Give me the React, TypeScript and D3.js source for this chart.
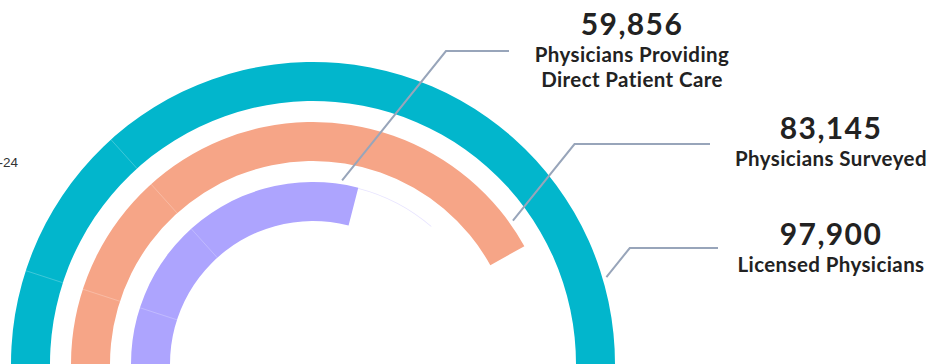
import React from "react";
import * as d3 from "d3";

// ---- data ----
const categories = [
  "Physicians Providing Direct Patient Care",
  "Physicians Surveyed",
  "Licensed Physicians",
];
const values = [59856, 83145, 97900];
const valueLabels = ["59,856", "83,145", "97,900"];
const subtitleLines = [
  ["Physicians Providing", "Direct Patient Care"],
  ["Physicians Surveyed"],
  ["Licensed Physicians"],
];
const periodLabel = "2023-24";

// ---- style / layout ----
const W = 941;
const H = 364;
const CX = 313;
const CY = 364;
const colors = ["#ADA4FE", "#F6A587", "#02B6CC"];
const deg = Math.PI / 180;

// label layout (per category, same order)
const labelLayout = [
  { cx: 632, numY: 35, lineY: 51, lineEnd: 509, anchorOffsetDeg: -5.4 },
  { cx: 831, numY: 139, lineY: 144, lineEnd: 710, anchorOffsetDeg: -6.5 },
  { cx: 831, numY: 245, lineY: 248, lineEnd: 718, anchorOffsetDeg: -16.8 },
];

export default function App() {
  const angle = d3
    .scaleLinear()
    .domain([0, d3.max(values) as number])
    .range([-105 * deg, 90.3 * deg]);

  const radius = d3
    .scaleBand<string>()
    .domain(categories)
    .range([143, 302])
    .paddingInner(0.35)
    .paddingOuter(0);

  const arc = d3.arc<any>();
  const polar = (a: number, r: number): [number, number] => [
    CX + r * Math.sin(a),
    CY - r * Math.cos(a),
  ];

  return (
    <svg
      width={W}
      height={H}
      style={{ position: "absolute", left: 0, top: 0, background: "#fff" }}
    >
      <text
        x={18}
        y={167}
        textAnchor="end"
        fontFamily="'Liberation Sans', Arial, sans-serif"
        fontSize={13.5}
        fill="#333"
      >
        {periodLabel}
      </text>

      <g transform={`translate(${CX},${CY})`}>
        {categories.map((c, i) => {
          const inner = radius(c) as number;
          const outer = inner + radius.bandwidth();
          const d = arc({
            innerRadius: inner,
            outerRadius: outer,
            startAngle: angle(0),
            endAngle: angle(values[i]),
          }) as string;
          return <path key={c} d={d} fill={colors[i]} />;
        })}
        {/* faint segment seams */}
        {categories.map((c, i) => {
          const inner = radius(c) as number;
          const outer = inner + radius.bandwidth();
          return [-72, -42].map((a) => (
            <line
              key={c + a}
              x1={inner * Math.sin(a * deg)}
              y1={-inner * Math.cos(a * deg)}
              x2={outer * Math.sin(a * deg)}
              y2={-outer * Math.cos(a * deg)}
              stroke="#fff"
              strokeOpacity={0.3}
              strokeWidth={0.8}
            />
          ));
        })}
        {/* faint trailing track after the innermost bar */}
        <path
          d={
            d3
              .arc<any>()({
                innerRadius: (radius(categories[0]) as number) + radius.bandwidth() - 1,
                outerRadius: (radius(categories[0]) as number) + radius.bandwidth() - 0.2,
                startAngle: angle(values[0]),
                endAngle: 40.7 * deg,
              }) as string
          }
          fill="#D6D1FF"
          opacity={0.6}
        />
      </g>

      {categories.map((c, i) => {
        const L = labelLayout[i];
        const outer = (radius(c) as number) + radius.bandwidth();
        const a = angle(values[i]) + L.anchorOffsetDeg * deg;
        const [sx, sy] = polar(a, outer + 4);
        const ex = sx + (sy - L.lineY) / 1.245;
        return (
          <g key={c}>
            <polyline
              points={`${sx},${sy} ${ex},${L.lineY} ${L.lineEnd},${L.lineY}`}
              fill="none"
              stroke="#98A5BA"
              strokeWidth={2}
            />
            <text
              x={L.cx}
              y={L.numY}
              textAnchor="middle"
              fontFamily="Lato, 'Open Sans', sans-serif"
              fontWeight={700}
              fontSize={30}
              letterSpacing={1.4}
              fill="#222"
            >
              {valueLabels[i]}
            </text>
            {subtitleLines[i].map((line, j) => (
              <text
                key={line}
                x={L.cx}
                y={L.numY + 27 + j * 25}
                textAnchor="middle"
                fontFamily="Lato, 'Open Sans', sans-serif"
                fontWeight={700}
                fontSize={20.5}
                letterSpacing={0.4}
                fill="#222"
              >
                {line}
              </text>
            ))}
          </g>
        );
      })}
    </svg>
  );
}
